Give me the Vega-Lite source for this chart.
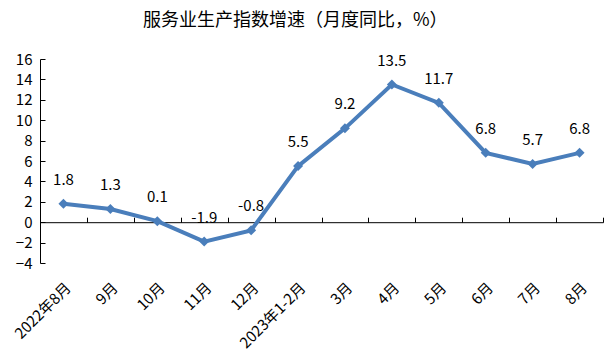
{
  "$schema": "https://vega.github.io/schema/vega-lite/v6.json",
  "autosize": {"type": "none"},
  "padding": {"left": 40, "top": 59, "right": 8, "bottom": 91},
  "width": 563,
  "height": 204,
  "title": {"text": "服务业生产指数增速（月度同比，%）", "font": "Noto Sans CJK SC", "fontSize": 18, "fontWeight": "normal", "color": "#000000", "anchor": "start", "frame": "group", "dx": 103, "offset": 22},
  "config": {"view": {"stroke": null}, "font": "Noto Sans CJK SC"},
  "data": {"values": [
    {"m": "2022年8月", "v": 1.8, "l": "1.8"},
    {"m": "9月", "v": 1.3, "l": "1.3"},
    {"m": "10月", "v": 0.1, "l": "0.1"},
    {"m": "11月", "v": -1.9, "l": "-1.9"},
    {"m": "12月", "v": -0.8, "l": "-0.8"},
    {"m": "2023年1-2月", "v": 5.5, "l": "5.5"},
    {"m": "3月", "v": 9.2, "l": "9.2"},
    {"m": "4月", "v": 13.5, "l": "13.5"},
    {"m": "5月", "v": 11.7, "l": "11.7"},
    {"m": "6月", "v": 6.8, "l": "6.8"},
    {"m": "7月", "v": 5.7, "l": "5.7"},
    {"m": "8月", "v": 6.8, "l": "6.8"}
  ]},
  "encoding": {
    "x": {"field": "m", "type": "nominal", "sort": null, "axis": null, "scale": {"type": "band", "paddingInner": 0, "paddingOuter": 0}},
    "y": {"field": "v", "type": "quantitative", "scale": {"domain": [-4, 16], "nice": false, "zero": false}, "axis": {"title": null, "values": [-4, -2, 0, 2, 4, 6, 8, 10, 12, 14, 16], "labelOverlap": false, "grid": false, "domainColor": "#000000", "tickColor": "#000000", "tickSize": -5, "labelPadding": 13, "labelFontSize": 15, "labelColor": "#000000", "labelFont": "Noto Sans CJK SC"}}
  },
  "layer": [
    {
      "mark": {"type": "line", "color": "#4a7ebb", "strokeWidth": 4},
      "encoding": {
        "x": {"field": "m", "type": "nominal", "sort": null, "axis": {"orient": "top", "offset": -163.2, "labels": false, "title": null, "domainColor": "#000000", "domainWidth": 1, "tickColor": "#000000", "tickSize": 5, "tickBand": "extent", "grid": false}}
      }
    },
    {
      "mark": {"type": "point", "shape": "diamond", "filled": true, "color": "#4a7ebb", "size": 100, "opacity": 1}
    },
    {
      "mark": {"type": "text", "dy": -24, "fontSize": 15, "color": "#000000", "font": "Noto Sans CJK SC"},
      "encoding": {
        "text": {"field": "l"},
        "x": {"field": "m", "type": "nominal", "sort": null, "axis": {"orient": "bottom", "title": null, "domain": false, "ticks": false, "labelAngle": -45, "labelPadding": 17, "labelFontSize": 15, "labelColor": "#000000", "labelFont": "Noto Sans CJK SC"}}
      }
    }
  ],
  "resolve": {"axis": {"x": "independent"}}
}
